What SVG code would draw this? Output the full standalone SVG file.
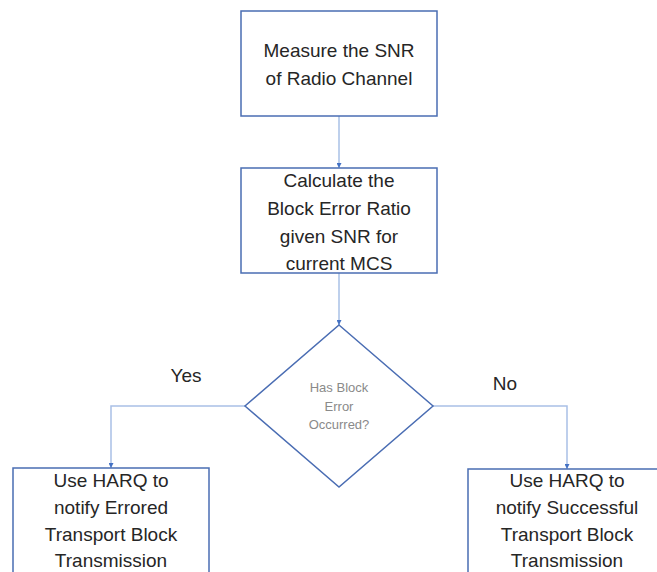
<svg xmlns="http://www.w3.org/2000/svg" width="657" height="572" viewBox="0 0 657 572">
  <style>
    .box { fill: #ffffff; stroke: #4a6db3; stroke-width: 1.5; }
    .lbl { font-family: "Liberation Sans", Arial, sans-serif; font-size: 19px; fill: #262626; text-anchor: middle; }
    .q { font-family: "Liberation Sans", Arial, sans-serif; font-size: 13px; fill: #8a8a8a; text-anchor: middle; }
    .wire { fill: none; stroke: #a9c0e6; stroke-width: 1.5; }
  </style>
  <defs>
    <marker id="arrow" viewBox="0 0 10 10" refX="10" refY="5" markerWidth="5" markerHeight="5" orient="auto" markerUnits="userSpaceOnUse">
      <path d="M0,0 L10,5 L0,10 z" fill="#4472c4"/>
    </marker>
  </defs>
  <rect width="657" height="572" fill="#ffffff"/>

  <g id="connectors">
    <path class="wire" d="M339,116 V168" marker-end="url(#arrow)"/>
    <path class="wire" d="M339,273 V325" marker-end="url(#arrow)"/>
    <path class="wire" d="M245,406 H111 V468" marker-end="url(#arrow)"/>
    <path class="wire" d="M433,406 H567 V469" marker-end="url(#arrow)"/>
  </g>

  <g id="measure">
    <rect class="box" x="241" y="11" width="196" height="105"/>
    <text class="lbl" x="339" y="57">Measure the SNR</text>
    <text class="lbl" x="339" y="85">of Radio Channel</text>
  </g>

  <g id="calculate">
    <rect class="box" x="241" y="168" width="196" height="105"/>
    <text class="lbl" x="339" y="187">Calculate the</text>
    <text class="lbl" x="339" y="215">Block Error Ratio</text>
    <text class="lbl" x="339" y="243">given SNR for</text>
    <text class="lbl" x="339" y="270">current MCS</text>
  </g>

  <g id="decision">
    <polygon class="box" points="339,325 433,406 339,487 245,406"/>
    <text class="q" x="339" y="392">Has Block</text>
    <text class="q" x="339" y="411">Error</text>
    <text class="q" x="339" y="429">Occurred?</text>
  </g>

  <g id="yes-label">
    <text class="lbl" x="186" y="382">Yes</text>
  </g>
  <g id="no-label">
    <text class="lbl" x="505" y="390">No</text>
  </g>

  <g id="errored">
    <rect class="box" x="13" y="468" width="196" height="120"/>
    <text class="lbl" x="111" y="487">Use HARQ to</text>
    <text class="lbl" x="111" y="514">notify Errored</text>
    <text class="lbl" x="111" y="541">Transport Block</text>
    <text class="lbl" x="111" y="567">Transmission</text>
  </g>

  <g id="successful">
    <rect class="box" x="468" y="469" width="210" height="120"/>
    <text class="lbl" x="567" y="487">Use HARQ to</text>
    <text class="lbl" x="567" y="514">notify Successful</text>
    <text class="lbl" x="567" y="541">Transport Block</text>
    <text class="lbl" x="567" y="567">Transmission</text>
  </g>
</svg>
